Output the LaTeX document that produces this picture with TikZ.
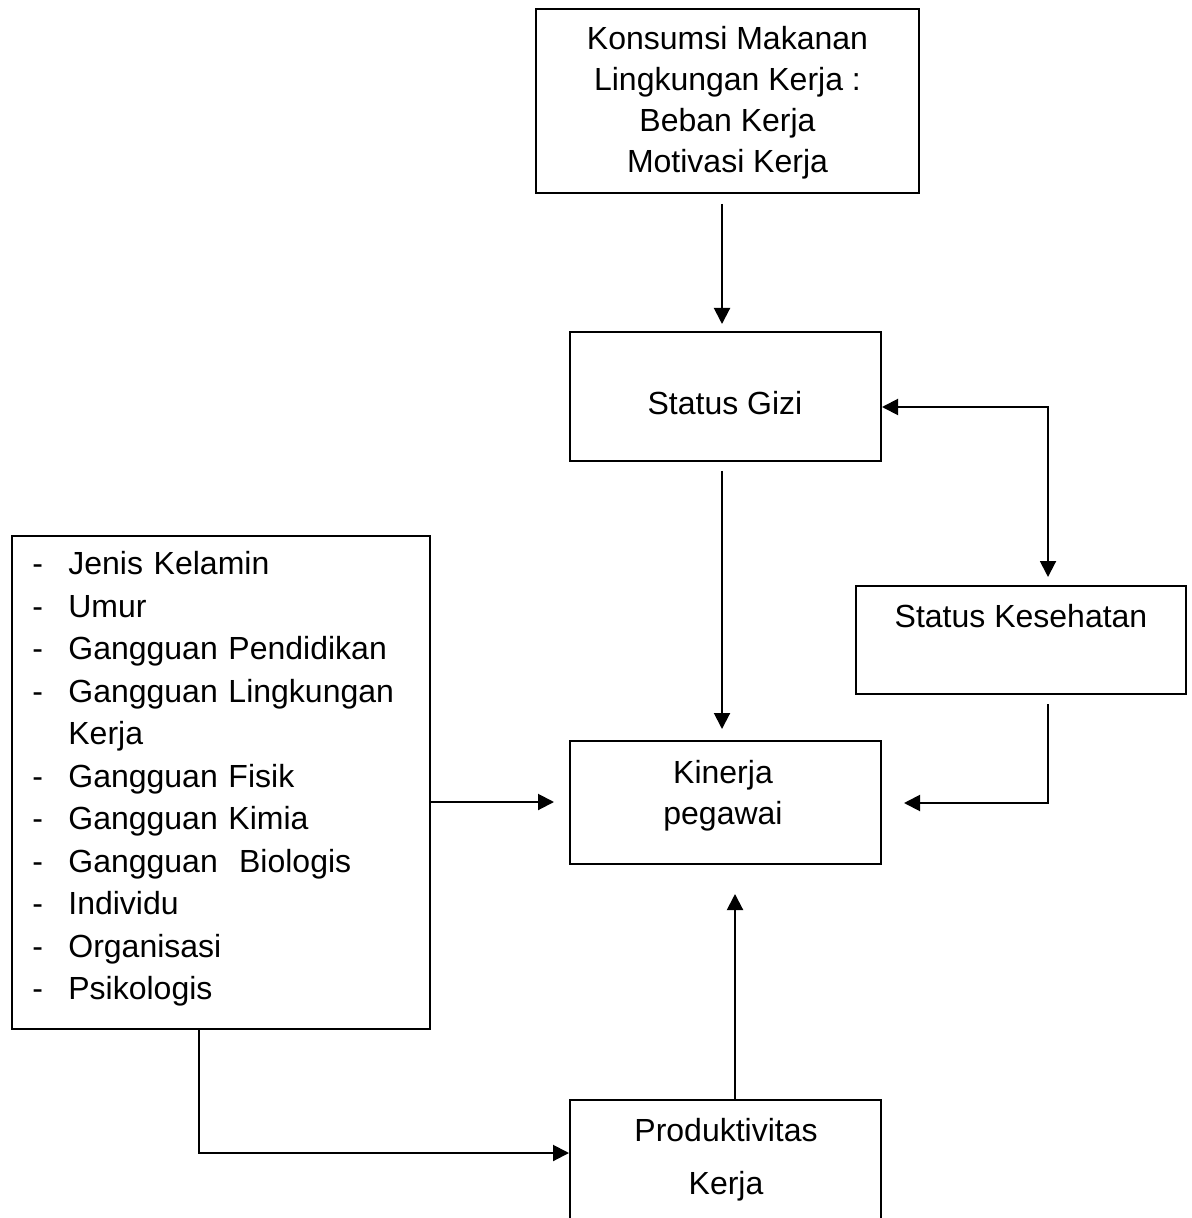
\documentclass[tikz,border=0pt]{standalone}
\usepackage{fontspec}
\setmainfont{Liberation Sans}
\usetikzlibrary{arrows.meta}
\tikzset{
  box/.style={draw, line width=1pt, inner sep=0pt},
  txt/.style={inner sep=0pt, font=\fontsize{16}{20.5}\selectfont, align=center},
  lst/.style={inner sep=0pt, font=\fontsize{16}{21.25}\selectfont, align=left, text width=195pt, anchor=west},
  arr/.style={line width=1pt, -{Triangle[length=8pt,width=8pt]}},
  darr/.style={line width=1pt, {Triangle[length=8pt,width=8pt]}-{Triangle[length=8pt,width=8pt]}}
}
\newcommand{\dashitem}[1]{\makebox[18pt][l]{-}\mbox{#1}}
\begin{document}
\begin{tikzpicture}[x=0.5pt,y=-0.5pt]
\useasboundingbox (0,0) rectangle (1191,1218);
\clip (0,0) rectangle (1191,1218);
\fill[white] (0,0) rectangle (1191,1218);

% boxes
\node[box, minimum width=191.5pt, minimum height=92pt] (TB) at (727.5,101) {};
\node[box, minimum width=155.5pt, minimum height=64.5pt] (SG) at (725.5,396.5) {};
\node[box, minimum width=165pt, minimum height=54pt] (SK) at (1021,640) {};
\node[box, minimum width=155.5pt, minimum height=61.5pt] (KP) at (725.5,802.5) {};
\node[box, minimum width=209pt, minimum height=246.5pt] (LB) at (221,782.5) {};
\node[box, minimum width=155.5pt, minimum height=80pt] (PK) at (725.5,1180) {};

% texts
\node[txt] (TBt) at (727.5,103) {Konsumsi Makanan\\Lingkungan Kerja :\\Beban Kerja\\Motivasi Kerja};
\node[txt, anchor=base] (SGt) at (725,415) {Status Gizi};
\node[txt, anchor=base] (SKt) at (1021,627) {Status Kesehatan};
\node[txt] (KPt) at (723,796) {Kinerja\\pegawai};
\node[txt, font=\fontsize{16}{26.5}\selectfont] (PKt) at (726,1160) {Produktivitas\\Kerja};
\node[lst] (LBt) at (32,779) {\dashitem{Jenis Kelamin}\\
\dashitem{Umur}\\
\dashitem{Gangguan Pendidikan}\\
\dashitem{Gangguan Lingkungan}\\
\hspace*{18pt}Kerja\\
\dashitem{Gangguan Fisik}\\
\dashitem{Gangguan Kimia}\\
\dashitem{Gangguan\ \ Biologis}\\
\dashitem{Individu}\\
\dashitem{Organisasi}\\
\dashitem{Psikologis}};

% helper coordinates
\coordinate (x1) at (722,0);
\coordinate (c1) at (1048,407);
\coordinate (c2) at (1048,803);
\coordinate (y5) at (0,802);
\coordinate (c6) at (199,1153);
\coordinate (x7) at (735,0);

% connectors
\draw[arr, shorten <=5pt, shorten >=3.5pt] (x1 |- TB.south) -- (x1 |- SG.north);
\draw[arr, shorten <=4.5pt, shorten >=5.5pt] (x1 |- SG.south) -- (x1 |- KP.north);
\draw[darr, shorten >=4pt] (SG.east |- c1) -- (c1) -- (c1 |- SK.north);
\draw[arr, shorten <=4.5pt, shorten >=11pt] (c2 |- SK.south) -- (c2) -- (c2 -| KP.east);
\draw[arr, shorten >=7.5pt] (LB.east |- y5) -- (KP.west |- y5);
\draw[arr] (c6 |- LB.south) -- (c6) -- (c6 -| PK.west);
\draw[arr, shorten >=14.5pt] (x7 |- PK.north) -- (x7 |- KP.south);
\end{tikzpicture}
\end{document}
